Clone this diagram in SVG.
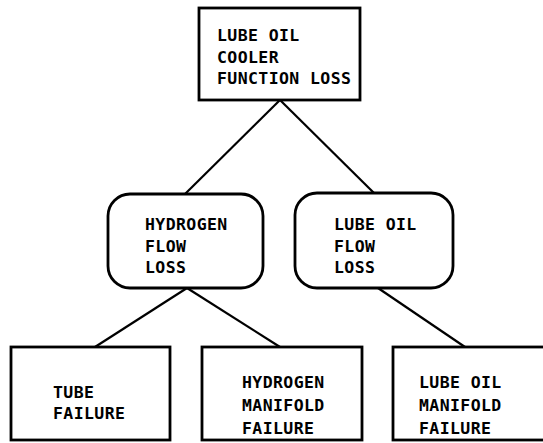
<svg xmlns="http://www.w3.org/2000/svg" width="543" height="443" viewBox="0 0 543 443">
<style>
.box{fill:#fff;stroke:#000;stroke-width:2.8}
.ln{stroke:#000;stroke-width:2.2;fill:none}
text{font-family:"DejaVu Sans Mono","Liberation Mono",monospace;font-size:16.5px;font-weight:bold;letter-spacing:0.4px;fill:#000}
</style>
<rect width="543" height="443" fill="#fff"/>
<g id="connectors">
<line class="ln" x1="280" y1="100" x2="184" y2="195"/>
<line class="ln" x1="280" y1="100" x2="375" y2="194"/>
<line class="ln" x1="187" y1="288" x2="95" y2="347"/>
<line class="ln" x1="187" y1="288" x2="280" y2="347"/>
<line class="ln" x1="378" y1="288" x2="465" y2="347"/>
</g>
<g id="n-top">
<rect class="box" x="199" y="8" width="161" height="92"/>
<text x="217" y="41">LUBE OIL</text>
<text x="217" y="63">COOLER</text>
<text x="217" y="84">FUNCTION LOSS</text>
</g>
<g id="n-h2flow">
<rect class="box" x="108" y="194" width="155" height="94" rx="22"/>
<text x="145" y="230">HYDROGEN</text>
<text x="145" y="252">FLOW</text>
<text x="145" y="273">LOSS</text>
</g>
<g id="n-oilflow">
<rect class="box" x="295" y="193" width="158" height="95" rx="22"/>
<text x="334" y="230">LUBE OIL</text>
<text x="334" y="252">FLOW</text>
<text x="334" y="273">LOSS</text>
</g>
<g id="n-tube">
<rect class="box" x="11" y="347" width="159" height="93"/>
<text x="53" y="398">TUBE</text>
<text x="53" y="419">FAILURE</text>
</g>
<g id="n-h2man">
<rect class="box" x="202" y="347" width="160" height="93"/>
<text x="242" y="388">HYDROGEN</text>
<text x="242" y="411">MANIFOLD</text>
<text x="242" y="434">FAILURE</text>
</g>
<g id="n-oilman">
<rect class="box" x="393" y="347" width="152" height="93"/>
<text x="419" y="388">LUBE OIL</text>
<text x="419" y="411">MANIFOLD</text>
<text x="419" y="434">FAILURE</text>
</g>
</svg>
